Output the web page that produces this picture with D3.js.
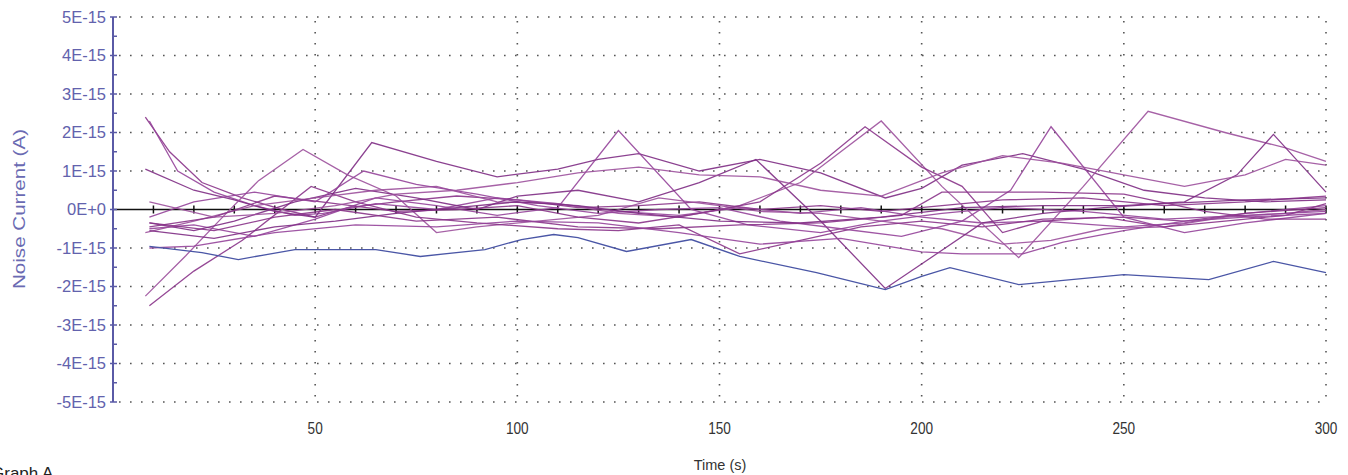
<!DOCTYPE html>
<html>
<head>
<meta charset="utf-8">
<script src="https://cdn.jsdelivr.net/npm/d3@7"></script>
<style>
  body { margin: 0; background: #fff; overflow: hidden; }
  svg { display: block; font-family: Arial, "Liberation Sans", sans-serif; }
</style>
</head>
<body>
<div id="graphicContainer"></div>
<script>
// values are in units of 1E-15 A, time in seconds
var yTicks = [5, 4, 3, 2, 1, 0, -1, -2, -3, -4, -5]
var xTicks = [50, 100, 150, 200, 250, 300]

var blueSeries = [[9,-0.96],[22,-1.12],[31,-1.3],[45,-1.04],[65,-1.04],[76,-1.22],[92,-1.04],[101,-0.78],[109,-0.65],[115,-0.73],[127,-1.09],[143,-0.78],[155,-1.22],[174,-1.64],[191,-2.08],[200,-1.74],[207,-1.51],[224,-1.95],[250,-1.69],[271,-1.82],[287,-1.35],[300,-1.64]]

var p1 = [[8,2.4],[14,1.5],[22,0.7],[32,0.3],[42,0.0],[50,-0.2],[58,0.05],[70,0.2],[85,0.35],[100,0.25],[115,0.05],[130,0.1],[145,0.2],[160,0.0],[175,0.1],[190,-0.05],[205,0.1],[220,0.25],[240,0.3],[260,0.1],[280,0.2],[300,0.35]]
var p2 = [[9,2.3],[16,1.0],[25,0.45],[35,0.1],[45,-0.15],[52,-0.1],[65,0.15],[80,0.0],[95,0.3],[110,0.15],[125,-0.05],[140,-0.15],[155,0.05],[170,-0.1],[185,0.05],[200,-0.2],[215,-0.35],[230,-0.3],[250,-0.45],[265,-0.35],[280,-0.1],[300,0.1]]
var p3 = [[8,1.05],[20,0.5],[30,0.25],[40,-0.05],[50,-0.2],[64,1.74],[80,1.25],[95,0.85],[110,1.05],[120,1.3],[130,1.45],[145,1.0],[160,1.3],[175,0.95],[191,0.3],[200,0.55],[210,1.15],[225,1.45],[240,1.05],[255,0.5],[270,0.3],[285,0.2],[300,0.25]]
var p4 = [[8,-2.25],[18,-1.2],[28,-0.1],[36,0.75],[47,1.56],[58,0.9],[70,0.35],[80,-0.6],[90,-0.45],[105,-0.3],[120,-0.15],[135,0.3],[150,0.1],[160,-0.05],[175,-0.1],[190,-0.3],[205,-0.5],[220,-0.9],[232,-0.8],[245,-0.5],[260,-0.45],[275,-0.2],[290,-0.1],[300,0.0]]
var p5 = [[9,-2.5],[20,-1.6],[32,-0.8],[49,0.6],[60,0.2],[75,-0.2],[90,-0.35],[110,-0.5],[125,-0.55],[140,-0.4],[155,-1.15],[170,-0.8],[185,-0.45],[200,-0.3],[215,-0.45],[230,-0.25],[250,-0.2],[265,-0.3],[280,-0.1],[300,0.05]]
var p6 = [[9,-0.5],[20,-0.4],[35,-0.7],[50,-0.25],[65,0.3],[80,0.1],[95,-0.15],[110,0.05],[125,2.05],[143,0.0],[157,-0.4],[175,-0.6],[190,-0.3],[205,-0.1],[220,0.05],[240,-0.05],[260,-0.25],[280,-0.15],[300,-0.05]]
var p7 = [[9,-0.35],[20,-0.55],[30,-0.3],[45,0.2],[60,0.55],[75,0.3],[90,0.0],[100,0.35],[115,0.5],[130,0.2],[145,0.7],[159,1.3],[175,-0.3],[191,-2.05],[203,-1.2],[215,-0.35],[230,-0.1],[245,0.05],[260,0.15],[280,0.25],[300,0.3]]
var p8 = [[8,-0.6],[20,-0.3],[35,0.1],[50,0.3],[65,0.5],[80,0.6],[95,0.2],[110,0.15],[125,-0.1],[140,-0.2],[155,0.1],[170,0.7],[190,2.3],[205,0.6],[224,-1.25],[240,0.6],[256,2.55],[275,2.0],[290,1.6],[300,1.25]]
var p9 = [[9,-0.45],[25,-0.2],[40,0.35],[55,0.15],[70,-0.05],[85,0.0],[100,0.1],[115,-0.2],[130,-0.35],[145,-0.1],[160,0.2],[175,1.2],[186,2.15],[200,1.1],[210,0.6],[220,-0.6],[230,-0.3],[245,-0.2],[260,-0.45],[275,-0.3],[290,-0.15],[300,0.15]]
var p10 = [[9,-0.2],[20,0.2],[35,0.45],[50,0.2],[62,1.0],[75,0.65],[90,0.4],[105,0.1],[120,-0.1],[135,0.0],[150,0.05],[165,-0.3],[180,-0.5],[195,-0.7],[210,-0.3],[222,0.5],[232,2.15],[250,-0.2],[265,-0.6],[280,-0.35],[300,-0.1]]
var p11 = [[9,-0.55],[25,-0.75],[40,-0.45],[55,-0.3],[70,-0.1],[85,0.05],[100,0.2],[115,0.1],[130,-0.1],[150,-0.3],[170,-0.35],[190,-0.2],[210,0.05],[230,0.1],[250,0.1],[265,0.2],[278,0.9],[287,1.95],[300,0.45]]
var p12 = [[9,0.2],[25,-0.2],[40,-0.1],[55,0.1],[70,0.4],[85,0.5],[100,0.7],[115,0.95],[130,1.1],[145,0.9],[160,0.85],[175,0.5],[190,0.35],[205,0.95],[220,1.4],[235,1.2],[250,0.9],[265,0.6],[280,0.9],[290,1.3],[300,1.15]]
var p13 = [[9,-0.35],[25,-0.55],[40,-0.2],[55,0.0],[75,-0.3],[95,-0.2],[115,-0.45],[135,-0.5],[155,-0.4],[175,-0.35],[195,-0.15],[205,0.45],[230,0.45],[250,0.4],[270,-0.05],[285,-0.25],[300,-0.25]]
var p14 = [[9,-1.0],[20,-0.95],[40,-0.6],[60,-0.4],[80,-0.45],[100,-0.3],[120,-0.35],[140,-0.6],[160,-0.9],[180,-0.75],[200,-1.1],[210,-1.15],[225,-1.15],[235,-0.85],[250,-0.55],[265,-0.3],[280,-0.2],[300,-0.1]]

var purpleSeries = [p1, p2, p3, p4, p5, p6, p7, p8, p9, p10, p11, p12, p13, p14]
var purples = ["#8a3489", "#95449a", "#7e2c84", "#9c509c"]

var width = 1348, height = 475

var svg = d3.select("#graphicContainer").append("svg")
	.attr("width", width)
	.attr("height", height)

var x = d3.scaleLinear().domain([0, 300]).range([113, 1326])
var y = d3.scaleLinear().domain([-5, 5]).range([402, 17])

var fmt = v => v === 0 ? "0E+0" : `${v}E-15`

// dotted grid
var grid = svg.append("g").attr("stroke", "#555").attr("stroke-width", 1.6)
	.attr("stroke-dasharray", "1.6,9.4")

grid.selectAll(".hgrid")
	.data(yTicks.filter(d => d !== 0))
	.join("line")
	.attr("x1", x(0) + 6).attr("x2", x(300))
	.attr("y1", d => y(d)).attr("y2", d => y(d))

grid.selectAll(".vgrid")
	.data(xTicks)
	.join("line")
	.attr("x1", d => x(d)).attr("x2", d => x(d))
	.attr("y1", y(5) + 4).attr("y2", y(-5))

// zero line with ticks every 10 s
svg.append("line")
	.attr("x1", x(0)).attr("x2", x(300))
	.attr("y1", y(0)).attr("y2", y(0))
	.attr("stroke", "#111").attr("stroke-width", 1.6)

svg.append("g").selectAll("line")
	.data(d3.range(10, 301, 10))
	.join("line")
	.attr("x1", d => x(d)).attr("x2", d => x(d))
	.attr("y1", y(0) - 4).attr("y2", y(0) + 4)
	.attr("stroke", "#111").attr("stroke-width", 1.5)

// series
var line = d3.line()
	.x(d => x(d[0]))
	.y(d => y(d[1]))

svg.append("g").selectAll("path")
	.data(purpleSeries)
	.join("path")
	.attr("fill", "none")
	.attr("stroke", (d, i) => purples[i % purples.length])
	.attr("stroke-width", 1.3)
	.attr("stroke-opacity", 0.9)
	.attr("d", line)

svg.append("path")
	.datum(blueSeries)
	.attr("fill", "none")
	.attr("stroke", "#4a56a6")
	.attr("stroke-width", 1.3)
	.attr("d", line)

// left axis
var axisColor = "#5a5aa6"
svg.append("line")
	.attr("x1", x(0)).attr("x2", x(0))
	.attr("y1", y(5)).attr("y2", y(-5))
	.attr("stroke", axisColor).attr("stroke-width", 2)

svg.append("g").selectAll("line")
	.data(yTicks)
	.join("line")
	.attr("x1", x(0) - 3).attr("x2", x(0) + 4)
	.attr("y1", d => y(d)).attr("y2", d => y(d))
	.attr("stroke", axisColor).attr("stroke-width", 1.5)

svg.append("g").selectAll("line")
	.data(d3.range(-4.5, 5, 1))
	.join("line")
	.attr("x1", x(0)).attr("x2", x(0) + 4)
	.attr("y1", d => y(d)).attr("y2", d => y(d))
	.attr("stroke", axisColor).attr("stroke-width", 1.5)

svg.append("g").selectAll("text")
	.data(yTicks)
	.join("text")
	.attr("x", x(0) - 7)
	.attr("y", d => y(d))
	.attr("dy", "0.36em")
	.attr("text-anchor", "end")
	.attr("font-size", 16.5)
	.attr("fill", "#6262ad")
	.text(fmt)

// x labels
svg.append("g").selectAll("text")
	.data(xTicks)
	.join("text")
	.attr("x", d => x(d))
	.attr("y", 434)
	.attr("text-anchor", "middle")
	.attr("font-size", 16)
	.attr("fill", "#333")
	.attr("transform", d => `translate(${x(d) * 0.15},0) scale(0.85,1)`)
	.text(d => d)

svg.append("text")
	.attr("x", 720)
	.attr("y", 470)
	.attr("text-anchor", "middle")
	.attr("font-size", 14.5)
	.attr("fill", "#333")
	.text("Time (s)")

svg.append("text")
	.attr("transform", "translate(25,209) rotate(-90)")
	.attr("text-anchor", "middle")
	.attr("font-size", 17)
	.attr("fill", "#6a6ab2")
	.attr("textLength", 160)
	.attr("lengthAdjust", "spacingAndGlyphs")
	.text("Noise Current (A)")

svg.append("text")
	.attr("x", -9)
	.attr("y", 479)
	.attr("font-size", 17)
	.attr("fill", "#222")
	.text("Graph A")
</script>
</body>
</html>
